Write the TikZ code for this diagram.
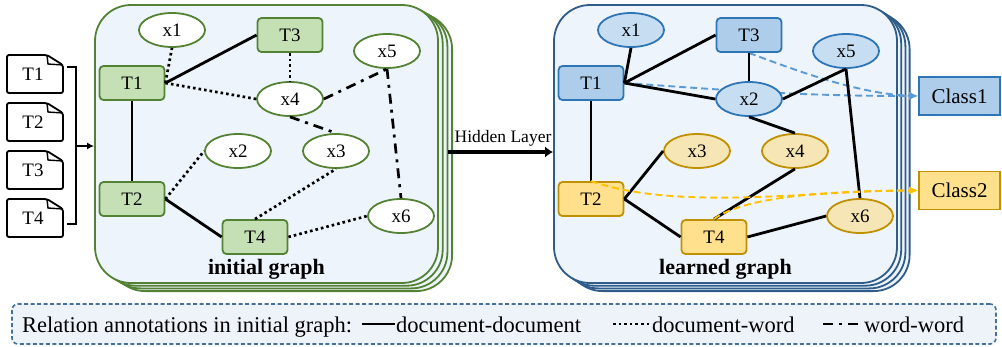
\documentclass[tikz,border=0pt]{standalone}
\usepackage{fontspec}
\setmainfont{Liberation Serif}
\usetikzlibrary{shapes.geometric,arrows.meta}
\pgfdeclarelayer{bg}
\pgfsetlayers{bg,main}

\definecolor{gline}{HTML}{548235}
\definecolor{gfill}{HTML}{C5E0B4}
\definecolor{pfill}{HTML}{EEF4FC}
\definecolor{bpanel}{HTML}{2F5C88}
\definecolor{bline}{HTML}{2E75B6}
\definecolor{bfill}{HTML}{ADCDEA}
\definecolor{bfillx}{HTML}{C6DDF2}
\definecolor{yline}{HTML}{BF9000}
\definecolor{yfill}{HTML}{FFE08C}
\definecolor{yfillx}{HTML}{F6E6B5}
\definecolor{bdash}{HTML}{5B9BD5}
\definecolor{ydash}{HTML}{FFC000}
\definecolor{legline}{HTML}{41719C}
\definecolor{legfill}{HTML}{EEF3FA}

\newcommand{\nodefont}{\fontsize{19}{21}\selectfont}
\newcommand{\clsfont}{\fontsize{21}{23}\selectfont}
\newcommand{\legfont}{\fontsize{22.5}{25}\selectfont}
\newcommand{\titfont}{\fontsize{22}{24}\selectfont\bfseries}
\newcommand{\hidfont}{\fontsize{17.5}{19}\selectfont}

\tikzset{
	docbox/.style={rectangle, rounded corners=4pt, minimum width=65pt, minimum height=34pt, inner sep=0pt, line width=1.8pt, font=\nodefont},
	wordell/.style={ellipse, minimum width=66pt, minimum height=34pt, inner sep=0pt, line width=1.8pt, font=\nodefont},
	gdoc/.style={docbox, draw=gline, fill=gfill},
	gword/.style={wordell, draw=gline, fill=white},
	bdoc/.style={docbox, draw=bline, fill=bfill},
	bword/.style={wordell, draw=bline, fill=bfillx},
	ydoc/.style={docbox, draw=yline, fill=yfill},
	yword/.style={wordell, draw=yline, fill=yfillx},
	panel/.style={rectangle, rounded corners=36pt, minimum width=343pt, minimum height=278pt, line width=1.8pt, fill=pfill},
	dd/.style={line width=2.8pt},
	dw/.style={line width=2.7pt, dash pattern=on 2.6pt off 3pt},
	ww/.style={line width=2.7pt, dash pattern=on 10pt off 6pt on 3pt off 6pt},
	bdsh/.style={draw=bdash, line width=1.9pt, dash pattern=on 7pt off 4pt, -{Latex[length=9pt,width=8pt]}},
	ydsh/.style={draw=ydash, line width=1.9pt, dash pattern=on 7pt off 4pt, -{Latex[length=9pt,width=8pt]}},
	paper/.style={line width=1.8pt, rounded corners=2pt},
}

\begin{document}
\begin{tikzpicture}[x=1pt,y=-1pt]
	\useasboundingbox (0,0) rectangle (1002,346);
	% panels and legend box
	\begin{pgfonlayer}{bg}
		\foreach \k in {3,2,1}
			\node[panel, draw=gline] at (266.5+4.7*\k,144+2.7*\k) {};
		\node[panel, draw=gline] (ipanel) at (266.5,144) {};
		\foreach \k in {3,2,1}
			\node[panel, draw=bpanel] at (725.5+4.2*\k,144+2.7*\k) {};
		\node[panel, draw=bpanel] (lpanel) at (725.5,144) {};
		\node[draw=legline, fill=legfill, line width=1.6pt, dash pattern=on 4pt off 2.5pt, rounded corners=6pt, minimum width=984pt, minimum height=40pt] (legend) at (504,324) {};
	\end{pgfonlayer}

	% input documents
	\foreach \t/\y in {1/55,2/103,3/151,4/199}{
		\draw[paper] (7,\y) -- (47,\y) -- (63,\y+10) -- (63,\y+38) -- (7,\y+38) -- cycle;
		\draw[line width=1.4pt] (47,\y) -- (48,\y+9) -- (63,\y+10);
		\node[font=\nodefont] (d\t) at (33,\y+19.5) {T\t};
	}
	\draw[line width=1.8pt] (67,67) -- (76,67) -- (76,224) -- (67,224);
	\coordinate (brk) at (76,146);
	\draw[line width=1.8pt, -{Latex[length=7pt,width=7pt]}] (brk) -- (brk -| ipanel.west);

	% initial graph
	\node[gword] (ix1) at (172,30) {x1};
	\node[gdoc] (iT3) at (290,35) {T3};
	\node[gword] (ix5) at (387,51) {x5};
	\node[gdoc] (iT1) at (132,83) {T1};
	\node[gword] (ix4) at (290,99) {x4};
	\node[gword] (ix2) at (238,151) {x2};
	\node[gword] (ix3) at (336,151) {x3};
	\node[gdoc] (iT2) at (132,199) {T2};
	\node[gdoc] (iT4) at (255,237) {T4};
	\node[gword] (ix6) at (401,216) {x6};
	\node[font=\titfont, anchor=base] (ititle) at (266.5,274) {initial graph};

	\draw[dd] (iT1.east) -- (iT3.west);
	\draw[dd] (iT1.south) -- (iT2.north);
	\draw[dd] (iT2.east) -- (iT4.west);
	\draw[dw] (iT1.east) -- (ix1.south);
	\draw[dw] (iT1.east) -- (ix4.west);
	\draw[dw] (iT3.south) -- (ix4.north);
	\draw[dw] (iT2.east) -- (ix2.west);
	\draw[dw] (iT4.north) -- (ix3.south);
	\draw[dw] (iT4.east) -- (ix6.west);
	\draw[ww] (ix4.east) -- (ix5.south);
	\draw[ww] (ix4.south) -- (ix3.north);
	\draw[ww] (ix5.south) -- (ix6.north);

	% hidden layer
	\coordinate (hl) at (448,152);
	\draw[line width=4pt, -{Latex[length=8pt,width=11pt]}] (hl) -- (hl -| lpanel.west);
	\node[font=\hidfont, anchor=base] (hlab) at (503,142) {Hidden Layer};

	% learned graph
	\node[bword] (lx1) at (631,30) {x1};
	\node[bdoc] (lT3) at (749,35) {T3};
	\node[bword] (lx5) at (846,51) {x5};
	\node[bdoc] (lT1) at (591,83) {T1};
	\node[bword] (lx2) at (749,99) {x2};
	\node[yword] (lx3) at (697,151) {x3};
	\node[yword] (lx4) at (795,151) {x4};
	\node[ydoc] (lT2) at (591,199) {T2};
	\node[ydoc] (lT4) at (714,237) {T4};
	\node[yword] (lx6) at (860,216) {x6};
	\node[font=\titfont, anchor=base] (ltitle) at (725.5,274) {learned graph};

	\draw[dd] (lT1.east) -- (lx1.south);
	\draw[dd] (lT1.east) -- (lT3.west);
	\draw[dd] (lT1.east) -- (lx2.west);
	\draw[dd] (lT1.south) -- (lT2.north);
	\draw[dd] (lT3.south) -- (lx2.north);
	\draw[dd] (lx2.east) -- (lx5.south);
	\draw[dd] (lx2.south) -- (lx4.north);
	\draw[dd] (lx5.south) -- (lx6.north);
	\draw[dd] (lT2.east) -- (lx3.west);
	\draw[dd] (lT2.east) -- (lT4.west);
	\draw[dd] (lT4.north) -- (lx4.south);
	\draw[dd] (lT4.east) -- (lx6.west);

	% classes
	\node[docbox, rounded corners=0pt, minimum width=81pt, minimum height=38pt, draw=bline, fill=bfill, font=\clsfont] (cls1) at (959.5,96) {Class1};
	\node[docbox, rounded corners=0pt, minimum width=81pt, minimum height=38pt, draw=yline, fill=yfill, font=\clsfont] (cls2) at (959.5,190.5) {Class2};
	\begin{pgfonlayer}{bg}
		\draw[bdsh] (lT1.east) to[out=-4,in=180] (cls1.west);
		\draw[bdsh] (lT3.south) .. controls (800,72) and (860,94) .. (cls1.west);
	\end{pgfonlayer}
	\draw[ydsh] (lT2.north) .. controls (680,212) and (820,190) .. (cls2.west);
	\draw[ydsh] (lT4.north) .. controls (745,196) and (830,191) .. (cls2.west);

	% legend
	\node[font=\legfont, anchor=base west, inner sep=0pt] (leg0) at (22,332) {Relation annotations in initial graph:};
	\draw[dd] (362,324) -- (395,324);
	\node[font=\legfont, anchor=base west, inner sep=0pt] (leg1) at (396,332) {document-document};
	\draw[dw] (613,324) -- (651,324);
	\node[font=\legfont, anchor=base west, inner sep=0pt] (leg2) at (652,332) {document-word};
	\draw[ww] (823,324) -- (863,324);
	\node[font=\legfont, anchor=base west, inner sep=0pt] (leg3) at (864,332) {word-word};
\end{tikzpicture}
\end{document}
